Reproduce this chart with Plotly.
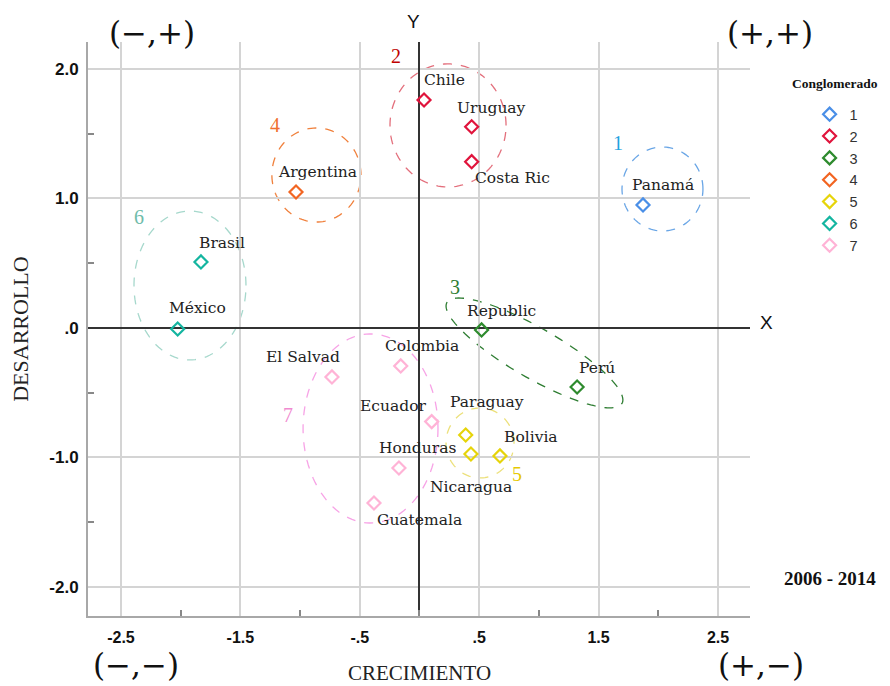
import numpy as np
import plotly.graph_objects as go

# ---------------- data ----------------
countries = ["Panamá", "Chile", "Uruguay", "Costa Ric", "Republic", "Perú", "Argentina",
             "Paraguay", "Nicaragua", "Bolivia", "Brasil", "México",
             "El Salvad", "Colombia", "Ecuador", "Honduras", "Guatemala"]
crecimiento = [1.872, 0.038, 0.437, 0.437, 0.52, 1.32, -1.034,
               0.387, 0.431, 0.674, -1.83, -2.025,
               -0.733, -0.157, 0.102, -0.172, -0.381]
desarrollo = [0.95, 1.76, 1.554, 1.284, -0.015, -0.456, 1.05,
              -0.826, -0.973, -0.988, 0.51, -0.008,
              -0.378, -0.293, -0.723, -1.081, -1.351]
conglomerado = [1, 2, 2, 2, 3, 3, 4, 5, 5, 5, 6, 6, 7, 7, 7, 7, 7]

# label offsets in pixels (dx right, dy up)
label_dx = [20, 20, 20, 41, 20, 20, 21, 21, 0, 31, 21, 20, -29, 21, -39, 19, 46]
label_dy = [20, 20, 19, -16, 19, 19, 20, 33, -33, 19, 19, 21, 20, 20, 16, 20, -17]

clusters = [1, 2, 3, 4, 5, 6, 7]
marker_colors = ["#4a8fe7", "#e0143c", "#2e8b2e", "#f26522", "#e6d40a", "#14b5a0", "#ffb3d6"]
ellipse_colors = ["#6aa6e6", "#e36f7c", "#2e7d32", "#f0803c", "#ece07a", "#a6d8cc", "#f7a3e6"]
number_colors = ["#1fa3e0", "#c00000", "#2e7d32", "#f07030", "#e6c800", "#6fbcaa", "#f08ad0"]

# ellipse: centre, first semi-axis vector, second semi-axis vector (data units)
ell_cx = [2.035, 0.239, 0.963, -0.863, 0.507, -1.922, -0.41]
ell_cy = [1.073, 1.564, -0.193, 1.181, -0.888, 0.328, -0.776]
ell_ux = [0.339, 0.486, 0.733, 0.373, 0.285, 0.469, 0.565]
ell_uy = [0.0, 0.0, -0.390, 0.0, 0.0, 0.0, 0.0]
ell_vx = [0.0, 0.0, 0.105, 0.0, 0.0, 0.0, 0.0]
ell_vy = [0.324, 0.475, 0.167, 0.363, 0.27, 0.575, 0.73]

# cluster number label positions
num_x = [1.662, -0.197, 0.297, -1.210, 0.817, -2.349, -1.101]
num_y = [1.429, 2.100, 0.317, 1.568, -1.127, 0.857, -0.672]

x_ticks = [-2.5, -1.5, -0.5, 0.5, 1.5, 2.5]
x_ticktext = ["-2.5", "-1.5", "-.5", ".5", "1.5", "2.5"]
y_ticks = [2.0, 1.0, 0.0, -1.0, -2.0]
y_ticktext = ["2.0", "1.0", ".0", "-1.0", "-2.0"]

# ---------------- figure ----------------
fig = go.Figure()

for i, c in enumerate(clusters):
    xs = [x for x, k in zip(crecimiento, conglomerado) if k == c]
    ys = [y for y, k in zip(desarrollo, conglomerado) if k == c]
    fig.add_trace(go.Scatter(
        x=xs, y=ys, mode="markers", name=str(c), legendgroup=str(c),
        marker=dict(symbol="diamond-open", size=10, color=marker_colors[i],
                    line=dict(width=2.2, color=marker_colors[i])),
        hoverinfo="skip"))

shapes = []
t = np.linspace(0, 2 * np.pi, 120)
for i in range(len(clusters)):
    px = ell_cx[i] + ell_ux[i] * np.cos(t) + ell_vx[i] * np.sin(t)
    py = ell_cy[i] + ell_uy[i] * np.cos(t) + ell_vy[i] * np.sin(t)
    path = "M " + " L ".join(f"{a:.4f},{b:.4f}" for a, b in zip(px, py)) + " Z"
    shapes.append(dict(type="path", path=path, xref="x", yref="y",
                       line=dict(color=ellipse_colors[i], width=1.3, dash="dash"),
                       layer="below"))

annotations = []
for name, x, y, dx, dy in zip(countries, crecimiento, desarrollo, label_dx, label_dy):
    annotations.append(dict(x=x, y=y, xref="x", yref="y", text=name, showarrow=False,
                            xshift=dx, yshift=dy, xanchor="center", yanchor="middle",
                            font=dict(family="DejaVu Serif", size=15.5, color="#222222")))
for i, c in enumerate(clusters):
    annotations.append(dict(x=num_x[i], y=num_y[i], xref="x", yref="y", text=str(c),
                            showarrow=False, xanchor="center", yanchor="middle",
                            font=dict(family="Liberation Serif", size=20, color=number_colors[i])))

quad_font = dict(family="DejaVu Serif", size=31, color="#111111")
for txt, x, y in [("(−,+)", 0.0967, 1.0157), ("(+,+)", 1.030, 1.0157),
                  ("(−,−)", 0.0725, -0.0862), ("(+,−)", 1.0166, -0.0862)]:
    annotations.append(dict(x=x, y=y, xref="paper", yref="paper", text=txt,
                            showarrow=False, xanchor="center", yanchor="middle",
                            font=quad_font))

paper_texts = [
    dict(x=0.491, y=1.035, text="Y",
         font=dict(family="Liberation Sans", size=19, color="#111111")),
    dict(x=1.0256, y=0.512, text="X",
         font=dict(family="Liberation Sans", size=19, color="#111111")),
    dict(x=0.5, y=-0.1, text="CRECIMIENTO",
         font=dict(family="Liberation Serif", size=21, color="#222222")),
    dict(x=-0.103, y=0.5, text="DESARROLLO", textangle=-90,
         font=dict(family="Liberation Serif", size=22, color="#222222")),
    dict(x=1.121, y=0.066, text="<b>2006 - 2014</b>",
         font=dict(family="Liberation Serif", size=19, color="#111111")),
    dict(x=1.128, y=0.928, text="<b>Conglomerado</b>",
         font=dict(family="Liberation Serif", size=13.5, color="#111111")),
]
for a in paper_texts:
    a.update(xref="paper", yref="paper", showarrow=False, xanchor="center", yanchor="middle")
    annotations.append(a)

fig.update_layout(
    width=882, height=678,
    margin=dict(l=80, r=140, t=34, b=70),
    paper_bgcolor="white", plot_bgcolor="white",
    shapes=shapes, annotations=annotations,
    showlegend=True,
    legend=dict(x=1.09, y=0.902, xanchor="left", yanchor="top",
                font=dict(family="Liberation Sans", size=14.5, color="#333333"),
                tracegroupgap=0, itemwidth=30, bgcolor="rgba(0,0,0,0)"),
    xaxis=dict(range=[-2.776, 2.768], tickvals=x_ticks, ticktext=x_ticktext,
               showgrid=True, gridcolor="#d4d4d4", gridwidth=1.5,
               zeroline=True, zerolinecolor="#333333", zerolinewidth=2,
               showline=True, linecolor="#a8a8a8", linewidth=2,
               ticks="", ticklabelstandoff=6,
               tickfont=dict(family="Liberation Sans", size=16, color="#111111", weight="bold"),
               minor=dict(tick0=0, dtick=1, ticks="inside", ticklen=6,
                          tickcolor="#888888", tickwidth=1.5, showgrid=False)),
    yaxis=dict(range=[-2.224, 2.208], tickvals=y_ticks, ticktext=y_ticktext,
               showgrid=True, gridcolor="#d4d4d4", gridwidth=1.5,
               zeroline=True, zerolinecolor="#333333", zerolinewidth=2,
               showline=True, linecolor="#a8a8a8", linewidth=2,
               ticks="", ticklabelstandoff=4,
               tickfont=dict(family="Liberation Sans", size=17, color="#111111", weight="bold"),
               minor=dict(tick0=0.5, dtick=1, ticks="inside", ticklen=6,
                          tickcolor="#888888", tickwidth=1.5, showgrid=False)),
)

fig.write_html("out.html")
